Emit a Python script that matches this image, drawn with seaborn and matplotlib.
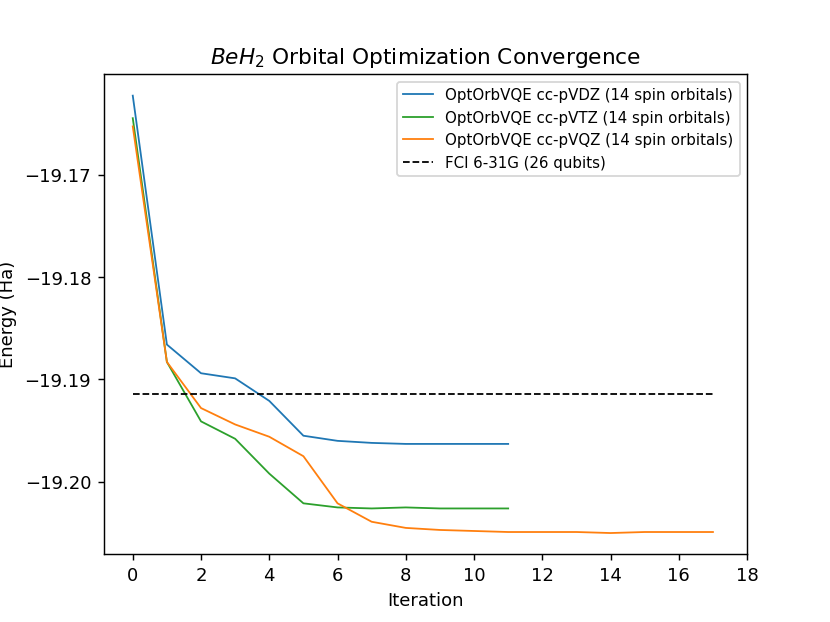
import matplotlib
matplotlib.use("Agg")
import matplotlib.pyplot as plt
import pandas as pd
import seaborn as sns

# energies (Ha)
vdz_energy = [-19.1623, -19.1866, -19.1894, -19.1899, -19.1921, -19.1955,
              -19.1960, -19.1962, -19.1963, -19.1963, -19.1963, -19.1963]
vtz_energy = [-19.1645, -19.1883, -19.1941, -19.1958, -19.1992, -19.2021,
              -19.2025, -19.2026, -19.2025, -19.2026, -19.2026, -19.2026]
vqz_energy = [-19.1653, -19.1883, -19.1928, -19.1944, -19.1956, -19.1975,
              -19.2021, -19.2039, -19.2045, -19.2047, -19.2048, -19.2049,
              -19.2049, -19.2049, -19.2050, -19.2049, -19.2049, -19.2049]
fci_energy = -19.1914

labels = [
    "OptOrbVQE cc-pVDZ (14 spin orbitals)",
    "OptOrbVQE cc-pVTZ (14 spin orbitals)",
    "OptOrbVQE cc-pVQZ (14 spin orbitals)",
]
fci_label = "FCI 6-31G (26 qubits)"

# build a long table for seaborn
frames = []
for label, energy in zip(labels, [vdz_energy, vtz_energy, vqz_energy]):
    frames.append(pd.DataFrame({
        "Iteration": range(len(energy)),
        "Energy": energy,
        "Method": label,
    }))
df = pd.concat(frames, ignore_index=True)

fig, ax = plt.subplots(figsize=(6.4, 4.8), dpi=129.7)

sns.lineplot(
    data=df,
    x="Iteration",
    y="Energy",
    hue="Method",
    palette=["tab:blue", "tab:green", "tab:orange"],
    linewidth=1,
    ax=ax,
)

# FCI reference line across the longest run
ax.hlines(fci_energy, 0, len(vqz_energy) - 1, colors="k", linestyles="--",
          linewidth=1, label=fci_label)

ax.set_xlim(-0.85, 18)
ax.set_ylim(-19.2070, -19.1602)
ax.set_xticks(range(0, 19, 2))
ax.ticklabel_format(axis="y", useOffset=False)

ax.set_title("$BeH_2$ Orbital Optimization Convergence")
ax.set_xlabel("Iteration")
ax.set_ylabel("Energy (Ha)")
ax.legend(loc="upper right", fontsize="small")

fig.savefig("out.png", dpi=129.7)
